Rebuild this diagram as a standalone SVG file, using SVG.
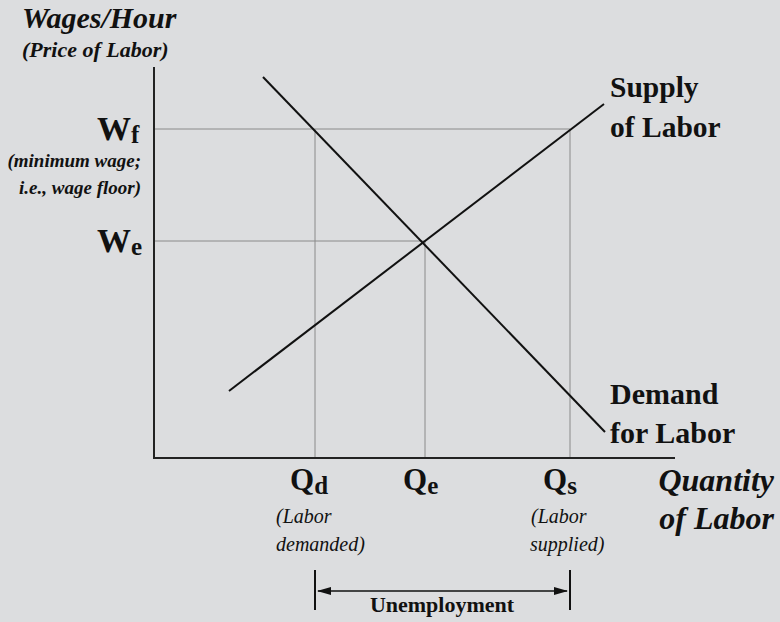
<svg xmlns="http://www.w3.org/2000/svg" width="780" height="622" viewBox="0 0 780 622">
<style>
text{font-family:'Liberation Serif','Times New Roman','DejaVu Serif',serif;fill:#111}
.b{font-weight:bold}
.bi{font-weight:bold;font-style:italic}
.i{font-style:italic}
.grid{stroke:#8a8a8a;stroke-width:1;fill:none}
.axis{stroke:#222;stroke-width:2;fill:none}
.curve{stroke:#111;stroke-width:2;fill:none}
</style>
<defs>
<marker id="ah" markerWidth="14" markerHeight="8" refX="13" refY="4" orient="auto-start-reverse" markerUnits="userSpaceOnUse">
<path d="M0,0 L14,4 L0,8 Z" fill="#111"/>
</marker>
</defs>
<rect width="780" height="622" fill="#dcdddf"/>
<g id="connectors">
<path class="grid" d="M154,129 H570 M154,241 H425 M315,129 V458 M425,241 V458 M570,129 V458"/>
<path class="axis" d="M154,67 V458 H675"/>
<path class="curve" d="M263,77 L605,432"/>
<path class="curve" d="M229,391 L604,104"/>
<path class="curve" d="M315,570 V610 M570,570 V610" stroke-width="1.5"/>
<line x1="318" y1="591" x2="567" y2="591" stroke="#111" stroke-width="1.5" marker-start="url(#ah)" marker-end="url(#ah)"/>
</g>
<g id="y-axis-label">
<text class="bi" x="22" y="28" font-size="30">Wages/Hour</text>
<text class="bi" x="22" y="57" font-size="22">(Price of Labor)</text>
</g>
<g id="wf">
<text class="b" x="97" y="140" font-size="34">W<tspan font-size="25" dy="3">f</tspan></text>
<text class="bi" x="141" y="167" font-size="19" text-anchor="end">(minimum wage;</text>
<text class="bi" x="141" y="194" font-size="19" text-anchor="end">i.e., wage floor)</text>
</g>
<g id="we">
<text class="b" x="97" y="252" font-size="34">W<tspan font-size="25" dy="3">e</tspan></text>
</g>
<g id="supply">
<text class="b" x="610" y="97" font-size="29.5">Supply</text>
<text class="b" x="610" y="137" font-size="29.5">of Labor</text>
</g>
<g id="demand">
<text class="b" x="610" y="404" font-size="30">Demand</text>
<text class="b" x="610" y="443" font-size="30">for Labor</text>
</g>
<g id="qd">
<text class="b" x="290" y="490" font-size="31">Q<tspan font-size="25" dy="4">d</tspan></text>
<text class="i" x="276" y="523" font-size="20">(Labor</text>
<text class="i" x="276" y="551" font-size="20">demanded)</text>
</g>
<g id="qe">
<text class="b" x="403" y="490" font-size="31">Q<tspan font-size="25" dy="4">e</tspan></text>
</g>
<g id="qs">
<text class="b" x="543" y="490" font-size="31">Q<tspan font-size="25" dy="4">s</tspan></text>
<text class="i" x="531" y="523" font-size="20">(Labor</text>
<text class="i" x="530" y="551" font-size="20">supplied)</text>
</g>
<g id="x-axis-label">
<text class="bi" x="774" y="491" font-size="32" text-anchor="end">Quantity</text>
<text class="bi" x="774" y="529" font-size="32" text-anchor="end">of Labor</text>
</g>
<g id="unemployment">
<text class="b" x="442" y="612" font-size="22" text-anchor="middle">Unemployment</text>
</g>
</svg>
